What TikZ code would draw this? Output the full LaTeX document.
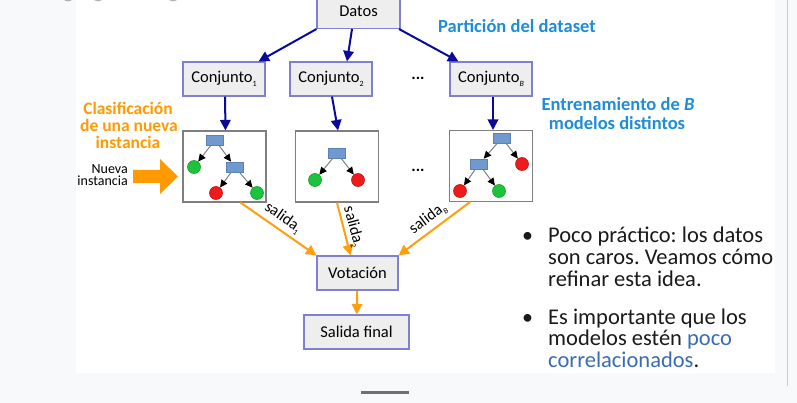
\documentclass[tikz,border=0pt]{standalone}
\usepackage{fontspec}
\setmainfont{Carlito}
\usetikzlibrary{arrows.meta}
\definecolor{pagebg}{HTML}{F8F9FA}
\definecolor{boxfill}{HTML}{EEEEEE}
\definecolor{boxline}{HTML}{8080D0}
\definecolor{treeline}{HTML}{7F7F7F}
\definecolor{rectfill}{HTML}{6F99CF}
\definecolor{rectline}{HTML}{5B82B5}
\definecolor{gfill}{HTML}{1CC33B}
\definecolor{gline}{HTML}{17A030}
\definecolor{rfill}{HTML}{EE1B1B}
\definecolor{rline}{HTML}{C01515}
\definecolor{navyc}{HTML}{0A0A9A}
\definecolor{orarrowc}{HTML}{FF9F10}
\definecolor{ortext}{HTML}{FF9A00}
\definecolor{headblue}{HTML}{1F8DD6}
\definecolor{linkblue}{HTML}{3A6CB4}
\definecolor{bodytext}{HTML}{1A1A1A}
\newcommand\lowidx[1]{\raisebox{-3.5pt}{\fontsize{8}{8}\selectfont #1}}
\frenchspacing
\begin{document}
\begin{tikzpicture}[x=1pt,y=-1pt,
  font=\fontsize{16.5}{18}\selectfont,
  box/.style={draw=boxline, fill=boxfill, line width=1.1pt, minimum height=34pt, inner sep=0pt},
  treebox/.style={draw=treeline, fill=white, line width=1.1pt, minimum width=83pt, minimum height=71pt, inner sep=0pt},
  tnode/.style={draw=rectline, fill=rectfill, minimum width=17pt, minimum height=10pt, inner sep=0pt, line width=0.6pt},
  gleaf/.style={circle, draw=gline, fill=gfill, minimum size=13pt, inner sep=0pt, line width=0.6pt},
  rleaf/.style={circle, draw=rline, fill=rfill, minimum size=13pt, inner sep=0pt, line width=0.6pt},
  tarrow/.style={draw=gray, line width=1pt, -{Triangle[length=7.5pt,width=7pt,color=black]}},
  blarrow/.style={draw=navyc, line width=2pt, -{Triangle[length=10.5pt,width=10.5pt]}},
  orarrow/.style={draw=orarrowc, line width=2pt, -{Triangle[length=10.5pt,width=10.5pt]}},
  salab/.style={font=\fontsize{16}{16}\selectfont, inner sep=0pt},
  bullettext/.style={anchor=base west, inner sep=0pt, text=bodytext, font=\fontsize{22.5}{22.5}\selectfont},
  headtext/.style={anchor=base, inner sep=0pt, text=headblue, font=\bfseries\fontsize{18.5}{18.5}\selectfont},
  oratext/.style={anchor=base, inner sep=0pt, text=ortext, font=\bfseries\fontsize{17.5}{17.5}\selectfont},
]
\useasboundingbox (0,0) rectangle (797,403);
\fill[pagebg] (0,0) rectangle (797,403);
\fill[white] (76,0) rectangle (775,373);
\draw[color={rgb,255:red,200;green,204;blue,208}, line width=1pt] (787,0) -- (787,386);
\fill[color={rgb,255:red,112;green,112;blue,112}] (361,391) rectangle (409,394);
\fill[gray!60] (68,-2.5) ellipse [x radius=5, y radius=4];
\fill[gray!60] (98,-2.5) ellipse [x radius=5, y radius=4];
\fill[gray!60] (173,-2.5) ellipse [x radius=5, y radius=4];

% boxes
\node[box, minimum width=83pt] (datos) at (358.5,11.5) {Datos};
\node[box, minimum width=82pt] (c1) at (224,79) {Conjunto\lowidx{1}};
\node[box, minimum width=82pt] (c2) at (331,79) {Conjunto\lowidx{2}};
\node[box, minimum width=82pt] (c3) at (491,79) {Conjunto\lowidx{\itshape B}};
\node (dots1) at (418,78) {\textbf{...}};

\draw[blarrow] (datos.south west) -- ([xshift=-7pt]c1.north east);
\draw[blarrow] ([xshift=-6.5pt]datos.south) -- ([xshift=16pt]c2.north);
\draw[blarrow] ([xshift=-1.5pt]datos.south east) -- ([xshift=9pt]c3.north west);

% tree boxes
\node[treebox] (t1) at (224.5,166.5) {};
\node[treebox] (t2) at (337,166.5) {};
\node[treebox] (t3) at (491,166) {};
\node (dots2) at (418,170) {\textbf{...}};

\draw[blarrow] ([xshift=1pt]c1.south) -- ([xshift=1pt]t1.north);
\draw[blarrow] ([xshift=1pt]c2.south) -- ([xshift=1pt]t2.north);
\draw[blarrow] ([xshift=2pt]c3.south) -- ([xshift=2pt]t3.north);

% tree 1
\node[tnode] (a1) at (215,140) {};
\node[gleaf] (a2) at (194,167) {};
\node[tnode] (a3) at (235,167) {};
\node[rleaf] (a4) at (216,193) {};
\node[gleaf] (a5) at (257,193) {};
\draw[tarrow] (a1) -- (a2);
\draw[tarrow] (a1) -- (a3);
\draw[tarrow] (a3) -- (a4);
\draw[tarrow] (a3) -- (a5);
% tree 2
\node[tnode] (b1) at (337,153) {};
\node[gleaf] (b2) at (315,180) {};
\node[rleaf] (b3) at (358,180) {};
\draw[tarrow] (b1) -- (b2);
\draw[tarrow] (b1) -- (b3);
% tree 3
\node[tnode] (d1) at (502,138) {};
\node[tnode] (d2) at (479,164) {};
\node[rleaf] (d3) at (522,164) {};
\node[rleaf] (d4) at (460,191) {};
\node[gleaf] (d5) at (499,191) {};
\draw[tarrow] (d1) -- (d2);
\draw[tarrow] (d1) -- (d3);
\draw[tarrow] (d2) -- (d4);
\draw[tarrow] (d2) -- (d5);

% voting
\node[box, minimum width=81pt] (vot) at (357.5,273) {Votación};
\node[box, minimum width=105pt] (sal) at (356.5,332) {Salida final};
\draw[orarrow] ([xshift=16pt]t1.south) -- (vot.north west);
\draw[orarrow] (t2.south) -- ([xshift=-7pt]vot.north);
\draw[orarrow] ([xshift=-21pt]t3.south) -- (vot.north east);
\draw[orarrow] (vot) -- (sal);
\node[salab, rotate=-35] (s1) at (283,218) {salida\lowidx{1}};
\node[salab, rotate=-75] (s2) at (353,227) {salida\lowidx{2}};
\node[salab, rotate=37] (s3) at (428,219) {salida\lowidx{\itshape B}};

% left side
\node[oratext] (o1) at (128,115) {Clasificación};
\node[oratext] (o2) at (129,132) {de una nueva};
\node[oratext] (o3) at (128,149) {instancia};
\node[anchor=base east, inner sep=0pt, font=\fontsize{14}{14}\selectfont] (n1) at (128,174) {Nueva};
\node[anchor=base east, inner sep=0pt, font=\fontsize{14}{14}\selectfont] (n2) at (128,186) {instancia};
\fill[ortext] (133,170) -- (160,170) -- (160,159) -- (178,176.5) -- (160,194) -- (160,183) -- (133,183) -- cycle;

% headings
\node[headtext] (h1) at (517,33) {Partición del dataset};
\node[headtext] (h2) at (618,111) {Entrenamiento de \textit{B}};
\node[headtext] (h3) at (617,129.5) {modelos distintos};

% bullets
\node[anchor=base, inner sep=0pt, text=bodytext, font=\fontsize{22}{22}\selectfont] (bu1) at (527.5,243) {•};
\node[bullettext] (l1) at (548,243) {Poco práctico: los datos};
\node[bullettext] (l2) at (548,264.5) {son caros. Veamos cómo};
\node[bullettext] (l3) at (548,286) {refinar esta idea.};
\node[anchor=base, inner sep=0pt, text=bodytext, font=\fontsize{22}{22}\selectfont] (bu2) at (527.5,324) {•};
\node[bullettext] (l4) at (548,324) {Es importante que los};
\node[bullettext] (l5) at (548,345.5) {modelos estén \textcolor{linkblue}{poco}};
\node[bullettext] (l6) at (548,367) {\textcolor{linkblue}{correlacionados}.};
\end{tikzpicture}
\end{document}
